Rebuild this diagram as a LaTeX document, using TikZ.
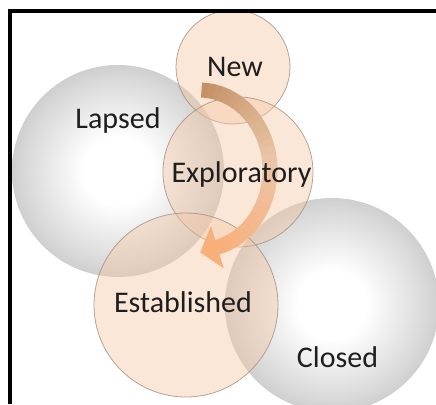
\documentclass[tikz,border=0pt]{standalone}
\usepackage{fontspec}
\setmainfont{Carlito}
\usetikzlibrary{calc}

\definecolor{peach}{HTML}{F5C6A2}
\definecolor{rimc}{HTML}{A39080}
\definecolor{arrA}{HTML}{C49166}
\definecolor{arrB}{HTML}{EBC6A8}
\definecolor{arrC}{HTML}{F9AF7A}
\definecolor{ink}{HTML}{1E1E1E}

% soft grey ball: white core fading to mid grey at the rim
\pgfdeclareradialshading{greysphere}{\pgfpoint{0bp}{0bp}}{%
  color(0bp)=(white); color(8bp)=(white); color(22bp)=(black!15);
  color(36bp)=(black!33); color(46bp)=(black!46); color(50bp)=(black!52)}

\begin{document}
\begin{tikzpicture}[x=1pt,y=-1pt,
  sphere/.style={shading=greysphere},
  ring/.style={fill=peach, fill opacity=0.42, draw=rimc, draw opacity=0.8, line width=0.8pt},
  lbl/.style={font=\fontsize{30}{30}\selectfont, text=ink, anchor=base, inner sep=0pt},
  band/.style={line width=15pt}]
\useasboundingbox (0,0) rectangle (436,404);
\clip (0,0) rectangle (436,404);

% grey stages
\shade[sphere] (118,171) circle[radius=106];
\shade[sphere] (332,305) circle[radius=107];

% translucent peach stages
\path[ring] (233,67) circle[radius=57];
\path[ring] (238,172) circle[radius=75];
\path[ring] (186,305) circle[radius=92];

% curved flow arrow, coloured in short arc pieces
\coordinate (ac) at (199,170);
\foreach \k in {0,...,31}{
  \pgfmathsetmacro\aS{-88+\k*5.09375}
  \pgfmathsetmacro\aE{\aS+5.6}
  \pgfmathtruncatemacro\p{round(\k*200/31)}
  \ifnum\p>100
    \pgfmathtruncatemacro\q{\p-100}
    \colorlet{segc}{arrC!\q!arrB}
  \else
    \colorlet{segc}{arrB!\p!arrA}
  \fi
  \draw[band, segc] (ac) ++(\aS:71 and 80)
    arc[start angle=\aS, end angle=\aE, x radius=71, y radius=80];
}
\coordinate (ae) at ($(ac)+(75:71 and 80)$);
\fill[arrC] ($(ae)+(6.4,21.1)$) -- ($(ae)+(-17.2,5.2)$) -- ($(ae)+(-6.4,-21.1)$) -- cycle;

% labels
\node[lbl] (new) at (235,76.7) {New};
\node[lbl] (lapsed) at (118,128) {Lapsed};
\node[lbl] (exploratory) at (241.5,182) {Exploratory};
\node[lbl] (established) at (183,312) {Established};
\node[lbl] (closed) at (337.5,367) {Closed};

% frame on the left and top
\draw[line width=3.2pt, line join=miter] (10,404) -- (10,11) -- (436,11);
\end{tikzpicture}
\end{document}
